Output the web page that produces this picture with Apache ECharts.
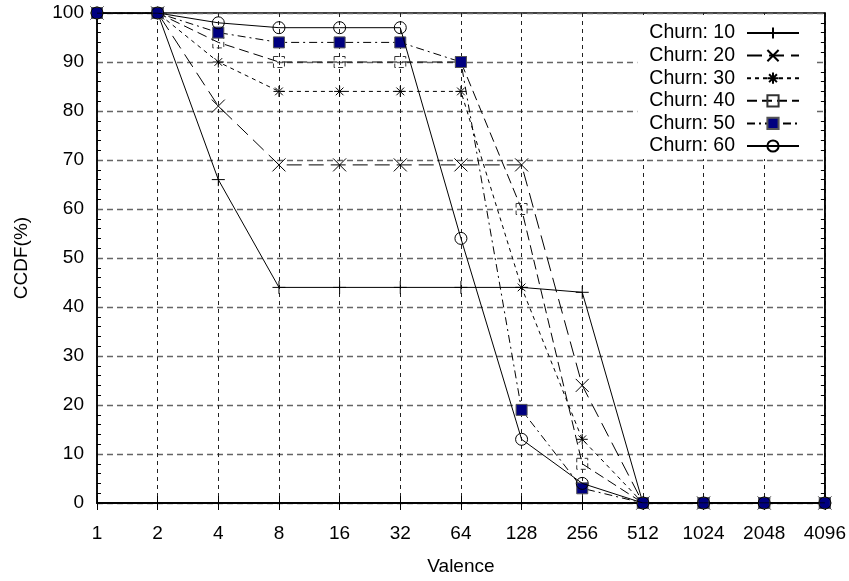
<!DOCTYPE html>
<html>
<head>
<meta charset="utf-8">
<script src="https://cdn.jsdelivr.net/npm/echarts@6/dist/echarts.min.js"></script>
<style>html,body{margin:0;padding:0;background:#fff}#c{width:849px;height:581px}</style>
</head>
<body>
<div id="c"></div>
<script>
const categories = ['1','2','4','8','16','32','64','128','256','512','1024','2048','4096'];
const churn10 = [100,100,66,44,44,44,44,44,43,0,0,0,0];
const churn20 = [100,100,81,69,69,69,69,69,24,0,0,0,0];
const churn30 = [100,100,90,84,84,84,84,44,13,0,0,0,0];
const churn40 = [100,100,94,90,90,90,90,60,8,0,0,0,0];
const churn50 = [100,100,96,94,94,94,90,19,3,0,0,0,0];
const churn60 = [100,100,98,97,97,97,54,13,4,0,0,0,0];
const seriesNames = ['Churn: 10','Churn: 20','Churn: 30','Churn: 40','Churn: 50','Churn: 60'];
const yTicks = [0,10,20,30,40,50,60,70,80,90,100];

const FONT = '"Liberation Sans", Arial, sans-serif';
const chart = echarts.init(document.getElementById('c'), null, {renderer:'canvas'});

const PLUS = 'path://M5,0L5,10M0,5L10,5';
const CROSS = 'path://M0,0L10,10M0,10L10,0';
const STAR = 'path://M5,0L5,10M0,5L10,5M1.5,1.5L8.5,8.5M1.5,8.5L8.5,1.5';

function mk(name, data, symbol, size, dash, item, z) {
  return {
    name, type:'line', data, symbol, symbolSize:size, showAllSymbol:true,
    z, animation:false,
    lineStyle:{color:'#000', width:1, type:dash},
    itemStyle:item,
    emphasis:{disabled:true}
  };
}

chart.setOption({
  animation:false,
  grid:{left:97, right:24, top:13, bottom:77, show:true, borderColor:'#000', borderWidth:1.5, backgroundColor:'transparent'},
  legend:{
    data:seriesNames, right:36, top:15, orient:'vertical', align:'right',
    backgroundColor:'#fff', padding:[8,13,3,12], itemGap:2.6,
    itemWidth:52, itemHeight:14,
    textStyle:{fontFamily:FONT, fontSize:19.5, color:'#000', lineHeight:20, padding:[0,7,0,0]},
    selectedMode:false
  },
  xAxis:[{
    type:'category', data:categories, boundaryGap:false,
    name:'Valence', nameLocation:'middle', nameGap:54,
    nameTextStyle:{fontFamily:FONT, fontSize:19, color:'#000'},
    axisLine:{lineStyle:{color:'#000', width:1.5}},
    axisTick:{inside:true, length:7, lineStyle:{color:'#000'}},
    axisLabel:{fontFamily:FONT, fontSize:19, color:'#000', margin:21},
    splitLine:{show:true, lineStyle:{color:'#222', type:[4,4], width:1}}
  },{
    type:'category', data:categories, boundaryGap:false, position:'top',
    axisLine:{lineStyle:{color:'#000', width:1.5}},
    axisTick:{inside:true, length:7, lineStyle:{color:'#000'}},
    axisLabel:{show:false}, splitLine:{show:false}
  }],
  yAxis:[{
    type:'value', min:0, max:100, interval:10,
    name:'CCDF(%)', nameLocation:'middle', nameGap:66,
    nameTextStyle:{fontFamily:FONT, fontSize:19, color:'#000'},
    axisLine:{show:true, lineStyle:{color:'#000', width:1.5}},
    axisTick:{inside:true, length:7, lineStyle:{color:'#000'}},
    minorTick:{show:true, splitNumber:5, length:4, lineStyle:{color:'#000'}},
    axisLabel:{fontFamily:FONT, fontSize:19, color:'#000', margin:13,
      formatter:function(v){return yTicks.indexOf(v)>=0 ? String(v) : '';}},
    splitLine:{show:true, lineStyle:{color:'#666', type:[6,4], width:1.3}}
  },{
    type:'value', min:0, max:100, interval:10, position:'right',
    axisLine:{show:true, lineStyle:{color:'#000', width:1.5}},
    axisTick:{inside:true, length:7, lineStyle:{color:'#000'}},
    minorTick:{show:true, splitNumber:5, length:4, lineStyle:{color:'#000'}},
    axisLabel:{show:false}, splitLine:{show:false}
  }],
  series:[
    mk(seriesNames[0], churn10, PLUS, 13, 'solid', {color:'#000', borderColor:'#000', borderWidth:1}, 3),
    mk(seriesNames[1], churn20, CROSS, 13, [15,7], {color:'#000', borderColor:'#000', borderWidth:1}, 3),
    mk(seriesNames[2], churn30, STAR, 11, [4,4], {color:'#000', borderColor:'#000', borderWidth:1}, 3),
    mk(seriesNames[3], churn40, 'rect', 11, [10,5], {color:'rgba(0,0,0,0)', borderColor:'#333', borderWidth:1, borderType:[5,3]}, 3),
    mk(seriesNames[4], churn50, 'rect', 11, [8,4,2,4], {color:'#000080', borderColor:'#555', borderWidth:1}, 4),
    mk(seriesNames[5], churn60, 'circle', 12, 'solid', {color:'rgba(0,0,0,0)', borderColor:'#000', borderWidth:1}, 5)
  ]
});
</script>
</body>
</html>
